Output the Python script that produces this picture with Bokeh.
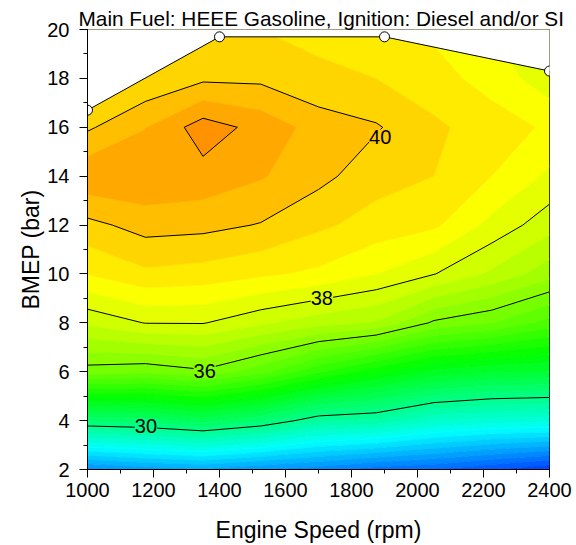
import colorsys
import numpy as np
from bokeh.plotting import figure
from bokeh.models import Range1d, SingleIntervalTicker
from bokeh.core.properties import value
from bokeh.embed import file_html
from bokeh.resources import INLINE

TITLE = "Main Fuel: HEEE Gasoline, Ignition: Diesel and/or SI"
X_LABEL = "Engine Speed (rpm)"
Y_LABEL = "BMEP (bar)"

# grid of operating points
speed_rpm = [1000, 1175, 1350, 1525, 1700, 1875, 2050, 2225, 2400]
bmep_bar = [2, 4, 6, 8, 10, 12, 14, 16, 18, 20]

# brake thermal efficiency (%) for each BMEP row (one value per speed)
eff_at_2 = [24.8, 25.2, 25.4, 25.0, 24.7, 24.2, 24.0, 23.5, 23.0]
eff_at_4 = [30.64, 30.78, 31.22, 30.62, 29.57, 29.4, 28.6, 28.3, 28.2]
eff_at_6 = [35.75, 35.6, 35.9, 35.16, 34.08, 33.15, 32.4, 32.1, 32.0]
eff_at_8 = [37.6, 38.02, 38.03, 37.6, 37.2, 36.95, 35.9, 35.51, 34.79]
eff_at_10 = [39.03, 39.4, 39.3, 39.1, 38.9, 38.5, 38.02, 37.4, 36.7]
eff_at_12 = [39.85, 40.2, 40.15, 39.97, 39.6, 39.3, 39.1, 38.35, 37.7]
eff_at_14 = [40.9, 40.95, 40.83, 40.55, 40.15, 39.7, 39.5, 39.0, 38.4]
eff_at_16 = [39.92, 40.48, 41.25, 40.83, 40.3, 40.05, 39.6, 39.25, 38.92]
eff_at_18 = [39.0, 39.57, 39.9, 39.89, 39.58, 39.5, 39.2, 38.8, 38.2]
eff_at_20 = [38.5, 39.0, 39.4, 39.5, 39.4, 39.2, 38.9, 38.5, 38.0]

# full-load limit (measured maximum BMEP)
limit_speed = [1000, 1400, 1900, 2400]
limit_bmep = [16.7, 19.7, 19.7, 18.3]

# labelled contour lines
line_levels = [30, 36, 38, 40, 41]
label_speed = [1177, 1355, 1710, 1887]
label_bmep = [3.78, 6.04, 9.02, 15.62]
label_text = ["30", "36", "38", "40"]
label_level = [30, 36, 38, 40]

X_MIN, X_MAX = 1000, 2400
Y_MIN, Y_MAX = 2, 20

fill_levels = [22 + 0.5 * i for i in range(41)]


def level_color(z):
    h = 152.5 - 10.5 * (z - 30.0)
    h = max(0.0, min(240.0, h))
    r, g, b = colorsys.hsv_to_rgb(h / 360.0, 1.0, 1.0)
    return "#%02x%02x%02x" % (round(r * 255), round(g * 255), round(b * 255))


band_colors = [level_color((a + b) / 2) for a, b in zip(fill_levels[:-1], fill_levels[1:])]
edge_colors = [level_color(v) for v in fill_levels]
label_bg = [level_color(v) for v in label_level]

z = np.array([eff_at_2, eff_at_4, eff_at_6, eff_at_8, eff_at_10,
              eff_at_12, eff_at_14, eff_at_16, eff_at_18, eff_at_20], dtype=float)
xs = np.array(speed_rpm, dtype=float)
ys = np.array(bmep_bar, dtype=float)

FONT = "Liberation Sans"

p = figure(width=576, height=545,
           x_range=Range1d(X_MIN, X_MAX), y_range=Range1d(Y_MIN, Y_MAX),
           output_backend="svg", toolbar_location=None,
           min_border_left=87, min_border_right=27, min_border_top=29, min_border_bottom=73,
           background_fill_color="white", border_fill_color="white")

p.title.text = TITLE
p.title.text_font = FONT
p.title.text_font_size = "20.8px"
p.title.text_font_style = "normal"
p.title.text_color = "black"
p.title.align = "left"
p.title.offset = -9
p.title.standoff = 0

p.xgrid.visible = False
p.ygrid.visible = False
p.outline_line_color = "black"
p.outline_line_alpha = 1.0
p.outline_line_width = 1

# filled bands
p.contour(x=xs, y=ys, z=z, levels=fill_levels,
          fill_color=band_colors, line_color=edge_colors, line_width=1)
# black contour lines
p.contour(x=xs, y=ys, z=z, levels=line_levels, line_color="black", line_width=1)

# white mask above the full-load limit
pad = 30
mask_x = [limit_speed[0] - pad] + limit_speed + [limit_speed[-1] + pad, limit_speed[-1] + pad, limit_speed[0] - pad]
mask_y = [limit_bmep[0]] + limit_bmep + [limit_bmep[-1], Y_MAX + 1, Y_MAX + 1]
p.patch(mask_x, mask_y, fill_color="white", line_color=None)
p.line(limit_speed, limit_bmep, line_color="black", line_width=1)
p.scatter(limit_speed, limit_bmep, size=10, fill_color="white", line_color="black", line_width=1)

# contour labels
p.text(x=label_speed, y=label_bmep, text=label_text,
       text_font=value(FONT), text_font_size="20px", text_color="black",
       text_align="center", text_baseline="middle",
       background_fill_color=label_bg)

p.xaxis.ticker = SingleIntervalTicker(interval=200, num_minor_ticks=2)
p.yaxis.ticker = SingleIntervalTicker(interval=2, num_minor_ticks=2)
p.xaxis.axis_label = X_LABEL
p.yaxis.axis_label = Y_LABEL

for ax in (p.xaxis[0], p.yaxis[0]):
    ax.axis_label_text_font = FONT
    ax.axis_label_text_font_size = "23px"
    ax.axis_label_text_font_style = "normal"
    ax.axis_label_text_color = "black"
    ax.major_label_text_font = FONT
    ax.major_label_text_font_size = "20px"
    ax.major_label_text_color = "black"
    ax.axis_line_color = "black"
    ax.major_tick_line_color = "black"
    ax.minor_tick_line_color = "black"
    ax.major_tick_in = 0
    ax.major_tick_out = 8
    ax.minor_tick_in = 0
    ax.minor_tick_out = 4

p.xaxis.major_label_standoff = 5
p.xaxis.axis_label_standoff = 17
p.yaxis.major_label_standoff = 10
p.yaxis.axis_label_standoff = 0

open("out.html", "w").write(file_html(p, INLINE))
